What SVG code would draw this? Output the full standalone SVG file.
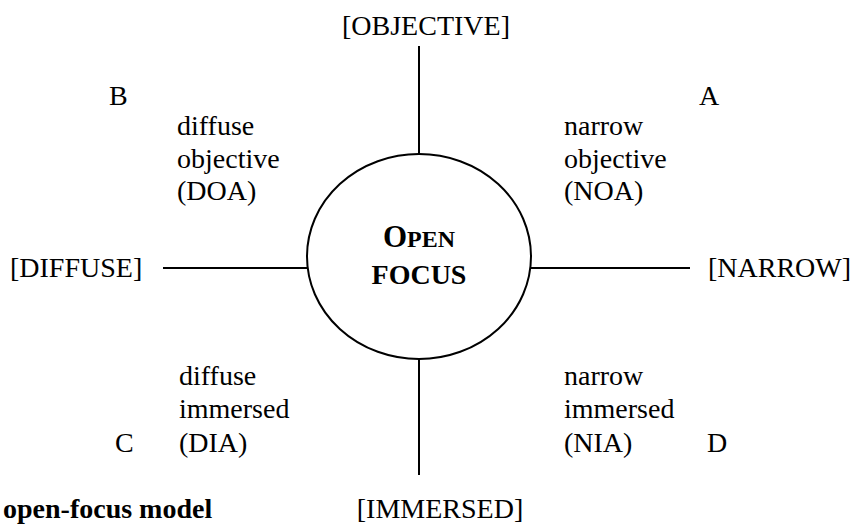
<svg xmlns="http://www.w3.org/2000/svg" width="858" height="525" viewBox="0 0 858 525" font-family="'Liberation Serif', Tinos, 'Times New Roman', 'Nimbus Roman', 'DejaVu Serif', serif">
<style>
text{font-family:"Liberation Serif",Tinos,"Times New Roman","Nimbus Roman","DejaVu Serif",serif;font-size:28px;fill:#000}
.b{font-weight:bold}
.ln{stroke:#000;stroke-width:2;fill:none}
</style>
<rect width="858" height="525" fill="#fff"/>
<g id="connectors">
<line class="ln" x1="419" y1="46" x2="419" y2="154"/>
<line class="ln" x1="419" y1="359" x2="419" y2="475"/>
<line class="ln" x1="163" y1="268" x2="307" y2="268"/>
<line class="ln" x1="531" y1="268" x2="690" y2="268"/>
</g>
<g id="center">
<ellipse class="ln" cx="419" cy="256.5" rx="112" ry="102.5"/>
<text class="b" x="419" y="247" text-anchor="middle"><tspan font-size="31">O</tspan><tspan font-size="24">PEN</tspan></text>
<text class="b" x="419" y="284" text-anchor="middle" font-size="24">FOCUS</text>
</g>
<g id="objective"><text x="426" y="35" text-anchor="middle">[OBJECTIVE]</text></g>
<g id="immersed"><text x="440" y="518" text-anchor="middle">[IMMERSED]</text></g>
<g id="diffuse"><text x="10" y="277">[DIFFUSE]</text></g>
<g id="narrow"><text x="708" y="277">[NARROW]</text></g>
<g id="quadB">
<text x="109" y="105">B</text>
<text x="177" y="135">diffuse</text>
<text x="177" y="168">objective</text>
<text x="177" y="200">(DOA)</text>
</g>
<g id="quadA">
<text x="699" y="105">A</text>
<text x="564" y="135">narrow</text>
<text x="564" y="168">objective</text>
<text x="564" y="200">(NOA)</text>
</g>
<g id="quadC">
<text x="115" y="452">C</text>
<text x="179" y="385">diffuse</text>
<text x="179" y="418">immersed</text>
<text x="179" y="452">(DIA)</text>
</g>
<g id="quadD">
<text x="707" y="452">D</text>
<text x="564" y="385">narrow</text>
<text x="564" y="418">immersed</text>
<text x="564" y="452">(NIA)</text>
</g>
<g id="caption"><text class="b" x="3" y="518" font-size="27">open-focus model</text></g>
</svg>
